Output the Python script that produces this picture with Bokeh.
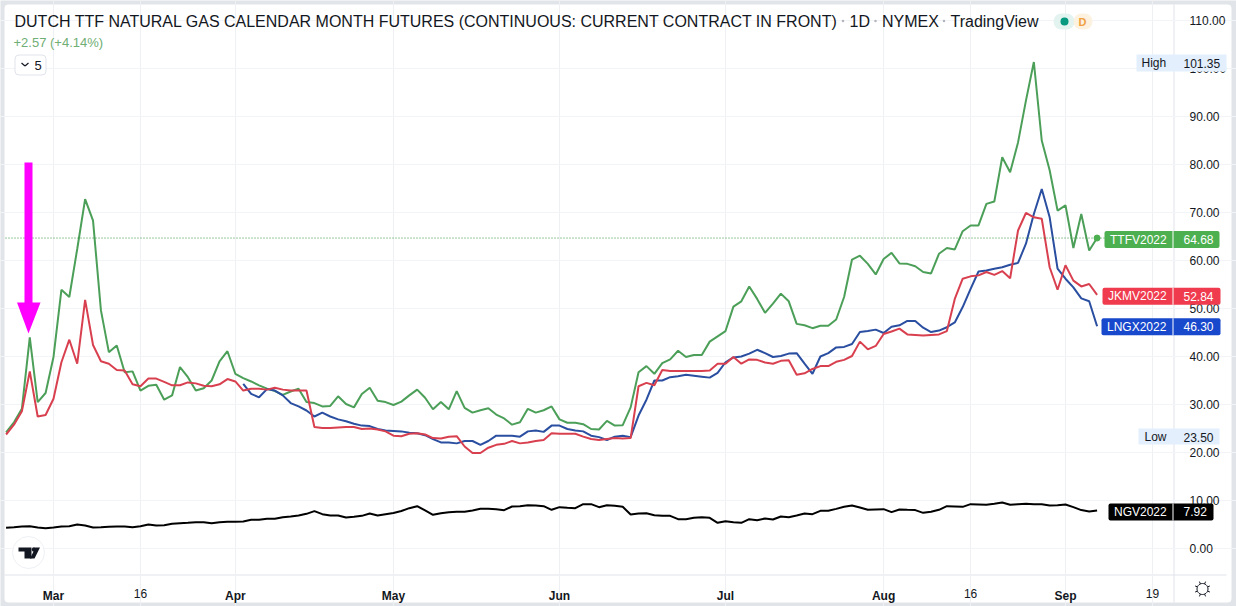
import numpy as np
from bokeh.plotting import figure
from bokeh.models import (Range1d, FixedTicker, NumeralTickFormatter, Label, BoxAnnotation,
                          PolyAnnotation, LinearAxis)
from bokeh.embed import file_html
from bokeh.resources import INLINE

# Bars are trading days counted from 1 Mar 2022; the series start 6 bars earlier.
month_ticks = [0, 23, 43, 64, 85, 105, 128]
month_labels = ["Mar", "Apr", "May", "Jun", "Jul", "Aug", "Sep"]
mid_ticks = [11, 116, 139]
mid_labels = ["16", "16", "19"]
price_ticks = [0, 10, 20, 30, 40, 50, 60, 70, 80, 90, 100, 110]
first_bar = -6
blue_first_bar = 24

ttf = [24.2, 26.3, 29.1, 44.0, 30.5, 32.4, 39.9, 53.9, 52.4, 62.4, 72.8, 68.3, 49.6, 40.9, 42.3, 36.7,
       36.9, 32.9, 33.9, 34.1, 31.0, 31.9, 37.8, 35.7, 32.9, 33.4, 35.0, 39.0, 41.1, 36.4, 35.5, 34.8,
       34.0, 33.3, 32.8, 32.0, 32.7, 33.3, 30.5, 30.3, 29.6, 29.7, 31.7, 30.1, 29.4, 32.2, 33.5, 30.8,
       30.5, 29.9, 30.6, 31.9, 33.1, 31.4, 29.0, 30.5, 29.0, 32.8, 29.3, 28.3, 28.8, 29.2, 27.9, 27.1,
       25.8, 26.3, 29.1, 28.3, 28.8, 29.6, 26.9, 26.2, 26.2, 25.9, 24.9, 24.8, 26.6, 25.6, 25.7, 29.4,
       36.7, 38.0, 36.4, 38.6, 39.4, 41.2, 39.9, 40.3, 40.3, 43.1, 44.2, 45.3, 50.4, 51.5, 54.6, 52.0,
       49.1, 51.0, 53.1, 51.5, 46.8, 46.5, 45.9, 46.4, 46.4, 47.7, 52.4, 60.2, 61.0, 59.3, 57.1, 60.3,
       61.6, 59.4, 59.3, 58.8, 57.6, 57.3, 61.4, 62.6, 62.3, 66.1, 67.3, 67.3, 71.8, 72.3, 81.5, 78.4,
       84.6, 93.3, 101.35, 85.0, 78.8, 70.4, 71.5, 62.6, 69.7, 62.1, 64.68]
jkm = [23.75, 25.8, 28.6, 36.9, 27.5, 27.8, 31.2, 38.8, 43.5, 38.5, 51.8, 42.4, 39.0, 38.5, 37.2, 37.1,
       34.2, 33.8, 35.4, 35.4, 34.7, 34.0, 34.0, 34.6, 34.4, 33.9, 33.8, 34.2, 35.3, 34.8, 32.9, 33.3,
       33.3, 33.1, 33.5, 33.1, 32.9, 32.9, 32.9, 25.3, 25.1, 25.1, 25.2, 25.3, 25.3, 24.9, 25.0, 24.8,
       24.4, 23.5, 23.4, 23.9, 24.0, 23.75, 23.0, 22.9, 23.3, 23.4, 21.25, 19.9, 19.9, 21.0, 21.6, 21.8,
       22.4, 21.9, 22.1, 22.4, 22.6, 24.0, 23.9, 23.9, 23.9, 23.3, 22.8, 22.6, 22.8, 23.0, 22.9, 23.0,
       33.8, 34.5, 34.0, 37.2, 37.0, 37.0, 37.0, 37.0, 37.0, 37.1, 38.5, 38.5, 39.9, 38.5, 39.4, 39.3,
       38.75, 38.5, 39.1, 39.2, 36.2, 36.5, 37.4, 38.0, 38.0, 38.9, 39.3, 40.1, 43.1, 41.5, 42.2, 44.7,
       45.2, 45.8, 44.6, 44.5, 44.4, 44.5, 44.6, 45.3, 52.0, 56.2, 56.7, 56.9, 57.6, 57.0, 57.8, 56.3,
       66.25, 69.9, 69.0, 68.7, 58.6, 53.9, 59.0, 55.8, 54.6, 55.1, 52.84]
lng = [34.3, 32.2, 31.5, 33.2, 32.9, 31.9, 30.3, 29.6, 28.75, 27.5, 28.3, 27.5, 26.9, 26.5, 26.0, 25.6,
       25.5, 24.9, 24.6, 24.5, 24.4, 24.1, 24.0, 23.6, 22.8, 22.1, 22.1, 21.9, 22.4, 22.4, 21.6, 22.4,
       23.5, 23.5, 23.5, 23.3, 24.4, 24.6, 24.3, 25.6, 25.6, 24.9, 24.6, 24.4, 23.5, 23.2, 22.6, 23.3,
       23.5, 23.2, 27.7, 31.0, 35.0, 35.0, 35.7, 35.9, 36.2, 36.0, 35.8, 35.6, 36.6, 38.8, 39.8, 40.0,
       40.6, 41.4, 40.7, 39.9, 40.1, 40.6, 40.7, 38.5, 36.4, 40.0, 40.7, 41.9, 42.0, 42.6, 45.1, 45.3,
       45.6, 44.9, 46.2, 46.5, 47.4, 47.4, 46.0, 45.1, 45.4, 46.1, 47.1, 50.3, 54.1, 57.7, 57.9, 58.3,
       58.6, 59.1, 59.5, 63.5, 69.7, 74.9, 69.0, 58.3, 56.2, 54.4, 52.1, 51.5, 46.3]
ng = [4.31, 4.44, 4.58, 4.65, 4.38, 4.24, 4.38, 4.58, 4.65, 5.0, 4.79, 4.38, 4.44, 4.51, 4.58, 4.58,
      4.44, 4.65, 5.0, 4.79, 4.86, 5.14, 5.28, 5.35, 5.49, 5.49, 5.28, 5.49, 5.56, 5.56, 5.63, 5.97,
      5.97, 6.18, 6.18, 6.53, 6.67, 6.88, 7.22, 7.78, 7.15, 6.88, 6.88, 6.46, 6.6, 6.8, 7.29, 6.88,
      7.15, 7.4, 7.8, 8.4, 8.82, 7.92, 7.01, 7.36, 7.57, 7.64, 7.64, 7.92, 8.26, 8.26, 8.19, 7.99,
      8.75, 8.82, 9.03, 8.96, 8.82, 8.06, 8.61, 8.47, 8.4, 9.24, 9.24, 8.61, 9.03, 8.89, 8.68, 7.08,
      7.29, 7.36, 6.94, 6.8, 6.8, 6.11, 6.11, 6.39, 6.53, 6.39, 5.35, 5.69, 5.49, 5.35, 6.11, 5.9,
      6.25, 6.04, 6.67, 6.53, 6.88, 7.29, 7.15, 7.85, 7.85, 8.26, 8.68, 8.96, 8.54, 8.06, 8.13, 8.19,
      7.57, 8.13, 8.06, 8.0, 7.43, 7.64, 8.06, 8.82, 8.75, 8.68, 9.24, 9.17, 9.1, 9.31, 9.58, 9.1,
      9.24, 9.31, 9.24, 9.24, 8.96, 9.03, 9.17, 8.61, 8.0, 7.72, 7.92]
last_prices = {"TTFV2022": 64.68, "JKMV2022": 52.84, "LNGX2022": 46.30, "NGV2022": 7.92}
high_value, low_value = 101.35, 23.50

GREEN_LINE, RED_LINE, BLUE_LINE = "#4c9f58", "#d9404f", "#2a4ea0"
INK = "#131722"
FONT = "Liberation Sans"

def xd(px):
    return (px - 53) / 7.906

def yd(py):
    return (548 - py) / 4.8

# The frame fills the whole canvas so tags may overlap the axis; the axes sit at fixed locations.
p = figure(width=1236, height=606, output_backend="svg", toolbar_location=None,
           x_range=Range1d(xd(0), xd(1236)), y_range=Range1d(yd(606), yd(0)),
           y_axis_location="right", min_border_left=0, min_border_right=0,
           min_border_top=0, min_border_bottom=0)
p.border_fill_color = "#e1e4e8"
p.background_fill_color = "#e1e4e8"
p.outline_line_color = None

def style_axis(a):
    a.major_label_text_font = FONT
    a.major_label_text_font_size = "12px"
    a.major_label_text_color = INK
    a.major_tick_line_color = None
    a.minor_tick_line_color = None
    a.axis_line_color = None

ax = p.xaxis[0]
style_axis(ax)
ax.fixed_location = yd(574)
ax.ticker = FixedTicker(ticks=month_ticks)
ax.major_label_overrides = dict(zip(month_ticks, month_labels))
ax.major_label_text_font_style = "bold"
ax.major_label_standoff = 8

ax2 = LinearAxis(fixed_location=yd(574), ticker=FixedTicker(ticks=mid_ticks),
                 major_label_overrides=dict(zip(mid_ticks, mid_labels)), major_label_standoff=8)
style_axis(ax2)
p.add_layout(ax2, "below")

ay = p.yaxis[0]
style_axis(ay)
ay.fixed_location = xd(1173)
ay.ticker = FixedTicker(ticks=price_ticks)
ay.formatter = NumeralTickFormatter(format="0.00")
ay.major_label_standoff = 10

p.xgrid[0].ticker = FixedTicker(ticks=month_ticks + mid_ticks)
p.xgrid[0].grid_line_color = "#eef0f4"
p.xgrid[0].bounds = (yd(574), yd(14))
p.ygrid[0].ticker = FixedTicker(ticks=price_ticks)
p.ygrid[0].grid_line_color = "#f3f4f7"
p.ygrid[0].bounds = (xd(5), xd(1173))

def box(l, r, t, b, fill, line=None, radius=0, level="overlay"):
    p.add_layout(BoxAnnotation(left=l, right=r, top=t, bottom=b, left_units="canvas", right_units="canvas",
                               top_units="canvas", bottom_units="canvas", fill_color=fill,
                               fill_alpha=1, line_color=line, line_alpha=1 if line else 0, line_width=1,
                               border_radius=radius, level=level))

def label(px, py, text, color=INK, size=12, style="normal", align="left"):
    p.add_layout(Label(x=px, y=py, x_units="canvas", y_units="canvas", text=text, text_color=color,
                       text_font=FONT, text_font_size=f"{size}px", text_font_style=style, text_align=align,
                       text_baseline="middle", level="overlay"))

def poly(xs_, ys_, width=1.0):
    p.add_layout(PolyAnnotation(xs=list(xs_), ys=list(ys_), xs_units="canvas", ys_units="canvas",
                                line_color=INK, line_alpha=1, line_width=width, fill_alpha=0, level="overlay"))

# card and chart separators
box(4, 1231, 4, 602, "#ffffff", radius=4, level="image")
box(1173, 1174, 4, 602, "#e0e3eb", level="image")
box(4, 1226, 574, 575, "#e0e3eb", level="image")

# series
xs = np.arange(len(ttf)) + first_bar
p.line(xs, ttf, line_color=GREEN_LINE, line_width=2)
p.line(np.arange(len(lng)) + blue_first_bar, lng, line_color=BLUE_LINE, line_width=2)
p.line(xs, jkm, line_color=RED_LINE, line_width=2)
p.line(xs, ng, line_color="#000000", line_width=2)
p.line([xd(5), xd(1173)], [last_prices["TTFV2022"]] * 2, line_color="#2f8f3a", line_width=1, line_dash="1 2")
p.scatter([xs[-1]], [ttf[-1]], size=6, marker="circle", fill_color="#4caf50", line_color="#4caf50")

# pink arrow
p.quad(left=xd(24), right=xd(32), top=yd(162), bottom=yd(303), fill_color="#ff00ff", line_color=None)
p.patch([xd(16.5), xd(40), xd(28)], [yd(302), yd(302), yd(333)], fill_color="#ff00ff", line_color=None)

# TradingView logo
p.scatter([xd(28)], [yd(552)], size=32, marker="circle", fill_color="#ffffff", line_color="#eef0f4")
p.patch([xd(18), xd(31), xd(31), xd(24), xd(24), xd(18)], [yd(547), yd(547), yd(558), yd(558), yd(551), yd(551)],
        fill_color="#131722", line_color=None)
p.scatter([xd(33.5)], [yd(549)], size=4.5, marker="circle", fill_color="#131722", line_color=None)
p.patch([xd(35), xd(39.5), xd(34), xd(29.5)], [yd(547), yd(547), yd(558), yd(558)], fill_color="#131722", line_color=None)

# header
label(14, 20.5, "DUTCH TTF NATURAL GAS CALENDAR MONTH FUTURES (CONTINUOUS: CURRENT CONTRACT IN FRONT)", size=16)
label(849, 20.5, "1D", size=16)
label(881.5, 20.5, "NYMEX", size=16)
label(950, 20.5, "TradingView", size=16)
p.scatter([xd(842.5), xd(875), xd(943.5)], [yd(20.5)] * 3, size=2.5, marker="circle", fill_color="#b2b5be", line_color=None)
label(13, 41.5, "+2.57 (+4.14%)", color="#6fae74", size=13)
box(14.5, 45.5, 54.5, 74.5, "#ffffff", line="#e0e3eb", radius=4)
label(34, 64.5, "5", size=13)
poly([21, 24.5], [62.5, 65.5], 1.2)
poly([24.5, 28], [65.5, 62.5], 1.2)
box(1053, 1074, 13, 29, "#e3f3ef", radius=8)
box(1073, 1092, 13, 29, "#fdf1e0", radius=8)
box(1060, 1068, 17, 25, "#089981", radius=4)
label(1082, 21, "D", color="#f0a040", size=11, style="bold", align="center")

# settings icon
for a in np.linspace(0, 2 * np.pi, 8, endpoint=False):
    ca, sa = np.cos(a + np.pi / 8), np.sin(a + np.pi / 8)
    poly([1202 + 5.5 * ca, 1202 + 8 * ca], [588.5 + 5.5 * sa, 588.5 + 8 * sa])
ang = np.linspace(0, 2 * np.pi, 28, endpoint=False)
poly(1202 + 5.5 * np.cos(ang), 588.5 + 5.5 * np.sin(ang), 1.0)

# high / low tags
box(1136, 1226, 54, 71, "#e3effd")
label(1141, 62, "High")
label(1183, 62.5, f"{high_value:.2f}")
box(1138, 1219, 428, 444, "#e3effd")
label(1144, 436.5, "Low")
label(1183, 436.5, f"{low_value:.2f}")

# last-price tags
tags = [("TTFV2022", 1104, 1219, "#4caf50", 1.5), ("JKMV2022", 1102, 1220, "#ef3b4d", 1.5),
        ("LNGX2022", 1101, 1220, "#1848cc", 0.5), ("NGV2022", 1108, 1213, "#000000", 1.5)]
for name, l, r, color, nudge in tags:
    cy = 548 - 4.8 * last_prices[name] + nudge
    box(l, r, cy - 8.5, cy + 8.5, color, radius=2)
    box(1172, 1173, cy - 8.5, cy + 8.5, "#ffffff")
    label(l + 5.5, cy, name, color="#ffffff")
    label(1183, cy, f"{last_prices[name]:.2f}", color="#ffffff")

open("out.html", "w").write(file_html(p, INLINE))
